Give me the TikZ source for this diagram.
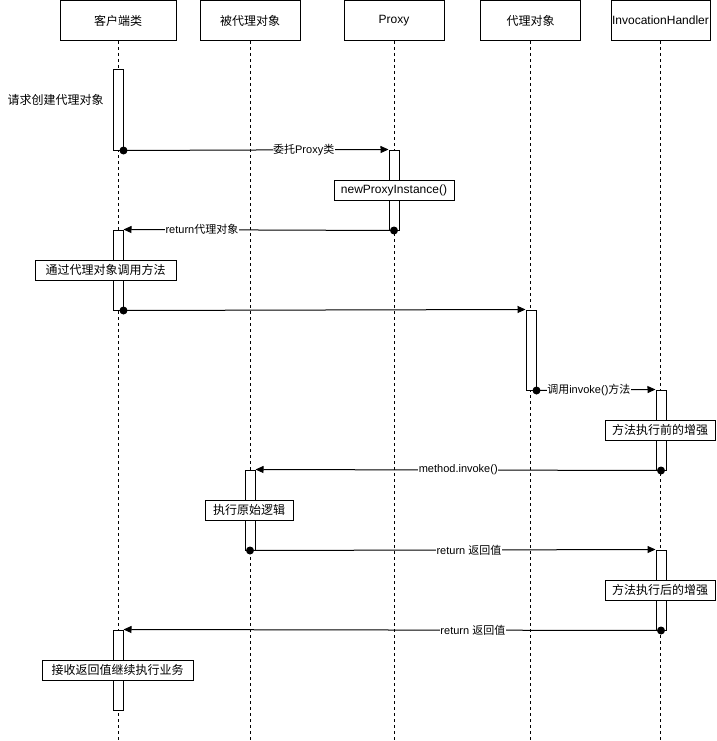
\documentclass[tikz,border=0pt]{standalone}
\usepackage{fontspec}
\setmainfont{Liberation Sans}
\newfontfamily\cjk{Noto Sans CJK SC}
\usetikzlibrary{arrows.meta}
\begin{document}
\begin{tikzpicture}[x=1pt,y=-1pt,
  head/.style={draw, fill=white, line width=1pt, minimum height=40pt, inner sep=0pt, font=\fontsize{12}{14}\selectfont},
  life/.style={line width=1pt, dash pattern=on 3pt off 3pt},
  actbar/.style={draw, fill=white, line width=1pt, minimum width=10pt, minimum height=80pt, inner sep=0pt},
  note/.style={draw, fill=white, line width=1pt, minimum height=20pt, inner sep=0pt, font=\fontsize{12}{14}\selectfont},
  plain/.style={inner sep=0pt, font=\fontsize{12}{14}\selectfont},
  msg/.style={line width=1pt, -{Triangle[length=8pt,width=7pt]}},
  lbl/.style={fill=white, inner sep=0.5pt, font=\fontsize{11}{13}\selectfont},
  startdot/.style={fill=black}
]
\useasboundingbox (0,0) rectangle (716,741);

% headers
\node[head, minimum width=116pt] (hc) at (118,20.5) {{\cjk 客户端类}};
\node[head, minimum width=100pt] (hb) at (250,20.5) {{\cjk 被代理对象}};
\node[head, minimum width=100pt] (hp) at (394,20.5) {Proxy};
\node[head, minimum width=100pt] (hd) at (530.5,20.5) {{\cjk 代理对象}};
\node[head, minimum width=99pt] (hi) at (660.5,20.5) {InvocationHandler};

% lifelines
\coordinate (ec) at (118,741);
\coordinate (eb) at (250,741);
\coordinate (ep) at (394,741);
\coordinate (ed) at (530.5,741);
\coordinate (ei) at (660.5,741);
\draw[life] (hc.south) -- (ec);
\draw[life] (hb.south) -- (eb);
\draw[life] (hp.south) -- (ep);
\draw[life] (hd.south) -- (ed);
\draw[life] (hi.south) -- (ei);

% activation bars
\node[actbar] (c1) at (118,110) {};
\node[actbar] (p1) at (394,190) {};
\node[actbar] (c2) at (118,270) {};
\node[actbar] (d1) at (531,350) {};
\node[actbar] (i1) at (661,430) {};
\node[actbar] (b1) at (250,510) {};
\node[actbar] (i2) at (661,590) {};
\node[actbar] (c3) at (118,670) {};

% messages
\draw[msg] (c1.south east) -- node[lbl, pos=0.68] {{\cjk 委托}Proxy{\cjk 类}} (p1.north west);
\draw[msg] (p1.south) -- node[lbl, pos=0.71] {return{\cjk 代理对象}} (c2.north east);
\draw[msg] (c2.south east) -- (d1.north west);
\draw[msg] (d1.south east) -- node[lbl, pos=0.44] {{\cjk 调用}invoke(){\cjk 方法}} (i1.north west);
\draw[msg] (i1.south) -- node[lbl, pos=0.5] {method.invoke()} (b1.north east);
\draw[msg] (b1.south) -- node[lbl, pos=0.54] {return {\cjk 返回值}} (i2.north west);
\draw[msg] (i2.south) -- node[lbl, pos=0.35] {return {\cjk 返回值}} (c3.north east);

% start dots
\fill[startdot] (c1.south east) circle (4pt);
\fill[startdot] (p1.south) circle (4pt);
\fill[startdot] (c2.south east) circle (4pt);
\fill[startdot] (d1.south east) circle (4pt);
\fill[startdot] (i1.south) circle (4pt);
\fill[startdot] (b1.south) circle (4pt);
\fill[startdot] (i2.south) circle (4pt);

% notes
\node[plain] (n0) at (55.5,100) {{\cjk 请求创建代理对象}};
\node[note, minimum width=120pt] (n1) at (394,190) {newProxyInstance()};
\node[note, minimum width=141pt] (n2) at (105.5,270) {{\cjk 通过代理对象调用方法}};
\node[note, minimum width=110pt] (n3) at (660,430) {{\cjk 方法执行前的增强}};
\node[note, minimum width=88pt] (n4) at (249,510) {{\cjk 执行原始逻辑}};
\node[note, minimum width=110pt] (n5) at (660,590) {{\cjk 方法执行后的增强}};
\node[note, minimum width=151pt] (n6) at (117.5,670) {{\cjk 接收返回值继续执行业务}};
\end{tikzpicture}
\end{document}
